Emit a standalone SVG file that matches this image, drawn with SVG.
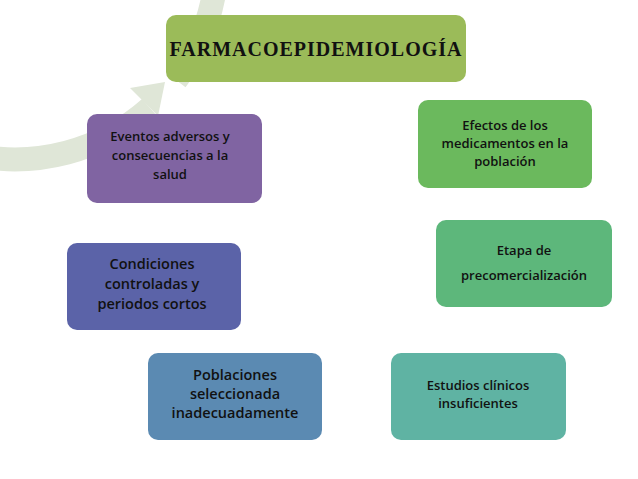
<svg xmlns="http://www.w3.org/2000/svg" width="638" height="479" viewBox="0 0 638 479">
<style>
.n{stroke:none}
.t{font-family:"Open Sans","DejaVu Sans",sans-serif;font-weight:600;fill:#111;text-anchor:middle}
</style>
<rect width="638" height="479" fill="#fff"/>
<g id="connectors">
<path d="M 176 80 A 202 200 0 1 0 150 108" fill="none" stroke="#dfe6d7" stroke-width="24"/>
<polygon points="130,88 165,82 158,116" fill="#dfe6d7"/>
</g>
<g id="n1"><rect class="n" x="166" y="15" width="300" height="67" rx="10" fill="#9bbb59"/>
<text x="316" y="56" style="font-family:'Liberation Serif',serif;font-weight:bold;font-size:20px;letter-spacing:1px;fill:#111" text-anchor="middle">FARMACOEPIDEMIOLOGÍA</text></g>
<g id="n2"><rect class="n" x="418" y="100" width="174" height="88" rx="10" fill="#6bb95d"/>
<text class="t" font-size="13"><tspan x="505" y="130">Efectos de los</tspan><tspan x="505" y="148">medicamentos en la</tspan><tspan x="505" y="166">población</tspan></text></g>
<g id="n3"><rect class="n" x="436" y="220" width="176" height="87" rx="10" fill="#5db77b"/>
<text class="t" font-size="13"><tspan x="524" y="255">Etapa de</tspan><tspan x="524" y="280">precomercialización</tspan></text></g>
<g id="n4"><rect class="n" x="391" y="353" width="175" height="87" rx="10" fill="#5fb3a3"/>
<text class="t" font-size="13"><tspan x="478" y="390">Estudios clínicos</tspan><tspan x="478" y="408">insuficientes</tspan></text></g>
<g id="n5"><rect class="n" x="148" y="353" width="174" height="87" rx="10" fill="#5b8ab2"/>
<text class="t" font-size="14.5"><tspan x="235" y="380">Poblaciones</tspan><tspan x="235" y="399">seleccionada</tspan><tspan x="235" y="418">inadecuadamente</tspan></text></g>
<g id="n6"><rect class="n" x="67" y="243" width="174" height="87" rx="10" fill="#5b63a8"/>
<text class="t" font-size="14.5"><tspan x="152" y="269">Condiciones</tspan><tspan x="152" y="289">controladas y</tspan><tspan x="152" y="309">periodos cortos</tspan></text></g>
<g id="n7"><rect class="n" x="87" y="114" width="175" height="89" rx="10" fill="#8064a2"/>
<text class="t" font-size="13"><tspan x="170" y="141">Eventos adversos y</tspan><tspan x="170" y="160">consecuencias a la</tspan><tspan x="170" y="179">salud</tspan></text></g>
</svg>
